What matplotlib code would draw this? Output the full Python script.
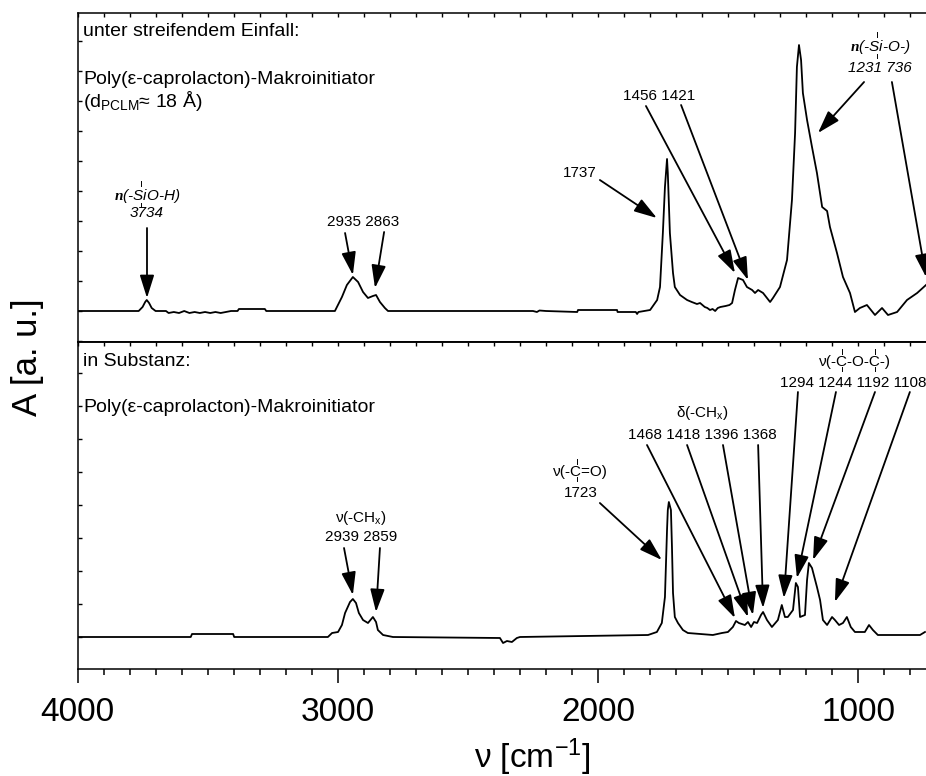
import numpy as np
import matplotlib
matplotlib.use('Agg')
import matplotlib.pyplot as plt
from matplotlib.lines import Line2D
from matplotlib.ticker import MultipleLocator
from matplotlib.transforms import IdentityTransform

plt.rcParams['font.family'] = ['Liberation Sans', 'DejaVu Sans']
plt.rcParams['mathtext.fontset'] = 'custom'
plt.rcParams['mathtext.rm'] = 'Liberation Sans'
plt.rcParams['mathtext.it'] = 'Liberation Sans:italic'
plt.rcParams['mathtext.bf'] = 'Liberation Sans:bold'
plt.rcParams['mathtext.bfit'] = 'Liberation Serif:italic:bold'

# ---------------- data ----------------
# grazing incidence spectrum (top)
wn_top = [4000, 3900, 3800, 3765, 3750, 3740, 3734, 3725, 3715, 3700, 3660, 3650, 3630, 3610,
          3590, 3570, 3550, 3530, 3510, 3490, 3470, 3450, 3430, 3410, 3385, 3380, 3280, 3275,
          3011, 2984, 2965, 2942, 2922, 2903, 2884, 2865, 2853, 2838, 2819, 2807, 2250, 2235,
          2225, 2200, 2080, 2077, 1927, 1925, 1855, 1850, 1845, 1800, 1773, 1762, 1751, 1743,
          1735, 1732, 1724, 1712, 1705, 1685, 1658, 1640, 1620, 1608, 1590, 1580, 1570, 1560,
          1550, 1540, 1530, 1510, 1495, 1485, 1474, 1462, 1443, 1428, 1408, 1397, 1385, 1366,
          1339, 1328, 1301, 1274, 1255, 1243, 1236, 1228, 1220, 1213, 1197, 1178, 1159, 1139,
          1120, 1109, 1082, 1059, 1032, 1013, 994, 967, 936, 909, 886, 851, 813, 774, 740]
a_top = [0, 0, 0, 0, 0.04, 0.09, 0.11, 0.08, 0.03, 0, 0, -0.02, -0.01, -0.02,
         0.0, -0.02, -0.01, -0.02, -0.01, -0.02, -0.01, -0.02, -0.01, 0, 0, 0.02, 0.02, 0,
         0, 0.14, 0.26, 0.34, 0.29, 0.19, 0.13, 0.15, 0.16, 0.09, 0.03, 0, 0, -0.01,
         0.005, 0, -0.01, 0.01, 0.01, -0.01, -0.01, -0.03, -0.01, 0.01, 0.11, 0.24, 0.78, 1.24,
         1.52, 1.38, 0.78, 0.38, 0.24, 0.16, 0.11, 0.09, 0.07, 0.08, 0.04, 0.03, 0.01, 0.02,
         0.0, 0.03, 0.04, 0.05, 0.06, 0.08, 0.21, 0.33, 0.31, 0.24, 0.21, 0.18, 0.21, 0.18,
         0.09, 0.13, 0.24, 0.51, 1.11, 1.78, 2.44, 2.66, 2.51, 2.18, 1.91, 1.64, 1.38, 1.04,
         1.00, 0.84, 0.58, 0.34, 0.18, -0.01, 0.03, 0.06, -0.04, 0.03, -0.04, -0.01, 0.11, 0.18, 0.26]

# bulk spectrum (bottom)
wn_bot = [4000, 3565, 3560, 3402, 3398, 3038, 3022, 2999, 2984, 2972, 2953, 2942, 2930, 2919,
          2903, 2884, 2865, 2853, 2846, 2826, 2788, 2377, 2365, 2350, 2331, 2312, 2300, 1808,
          1774, 1755, 1743, 1735, 1732, 1728, 1720, 1716, 1712, 1705, 1693, 1674, 1655, 1559,
          1524, 1501, 1482, 1470, 1459, 1436, 1424, 1412, 1401, 1389, 1374, 1366, 1351, 1332,
          1309, 1294, 1282, 1271, 1251, 1240, 1232, 1224, 1205, 1197, 1190, 1178, 1159, 1147,
          1136, 1120, 1101, 1090, 1074, 1059, 1044, 1029, 1013, 975, 959, 944, 925, 763, 744]
a_bot = [0, 0, 0.03, 0.03, 0, 0, 0.04, 0.05, 0.12, 0.24, 0.35, 0.38, 0.34, 0.24,
         0.17, 0.14, 0.20, 0.15, 0.07, 0.02, 0, -0.01, -0.06, -0.04, -0.05, -0.01, 0, 0.02,
         0.05, 0.14, 0.40, 1.07, 1.27, 1.35, 1.27, 0.90, 0.44, 0.20, 0.14, 0.07, 0.04, 0.02,
         0.04, 0.05, 0.10, 0.16, 0.14, 0.12, 0.15, 0.10, 0.15, 0.14, 0.22, 0.25, 0.17, 0.10,
         0.17, 0.32, 0.20, 0.20, 0.27, 0.54, 0.50, 0.20, 0.22, 0.57, 0.74, 0.69, 0.50, 0.37,
         0.17, 0.12, 0.20, 0.17, 0.12, 0.14, 0.20, 0.10, 0.05, 0.05, 0.12, 0.07, 0.02, 0.02, 0.05]

# panel titles
top_title = ["unter streifendem Einfall:", "Poly(\u03b5-caprolacton)-Makroinitiator",
             "(d$_{\\mathrm{PCLM}}$\u2248 18 \u00c5)"]
bot_title = ["in Substanz:", "Poly(\u03b5-caprolacton)-Makroinitiator"]

# annotation labels: (group label, numbers, x, y_group, y_numbers, italic)
top_groups = [("$\\mathbfit{n}$(-SiO-H)", "3734", 3733, 1.15, 0.98, True),
              (None, "2935 2863", 2903, None, 0.89, False),
              (None, "1456 1421", 1766, None, 2.15, False),
              ("$\\mathbfit{n}$(-Si-O-)", "1231 736", 917, 2.64, 2.43, True)]
# arrows: (tail wn, tail A, tip wn, tip A)
top_arrows = [(3733, 0.83, 3733, 0.13),
              (2972, 0.78, 2942, 0.36), (2822, 0.79, 2857, 0.23),
              (1993, 1.31, 1774, 0.93),
              (1816, 2.05, 1474, 0.38), (1681, 2.06, 1424, 0.31),
              (978, 2.29, 1155, 1.78), (871, 2.29, 740, 0.34)]

bot_groups = [("\u03bd(-CH$_\\mathrm{x}$)", "2939 2859", 2910, 1.19, 1.00),
              ("\u03bd(-C=O)", "1723", 2066, 1.65, 1.44),
              ("\u03b4(-CH$_\\mathrm{x}$)", "1468 1418 1396 1368", 1601, 2.24, 2.02),
              ("\u03bd(-C-O-C-)", "1294 1244 1192 1108", 1013, 2.75, 2.54)]
bot_arrows = [(2976, 0.89, 2942, 0.42), (2838, 0.89, 2853, 0.25),
              (1993, 1.34, 1755, 0.77),
              (1812, 1.92, 1474, 0.19), (1658, 1.92, 1424, 0.20),
              (1520, 1.92, 1405, 0.22), (1385, 1.92, 1366, 0.29),
              (1232, 2.45, 1286, 0.39), (1086, 2.45, 1236, 0.59),
              (936, 2.45, 1174, 0.77), (802, 2.45, 1090, 0.35)]

# ---------------- figure ----------------
W, H = 926, 776
fig = plt.figure(figsize=(W / 100, H / 100), dpi=100)
left = 77.5 / W
ax1 = fig.add_axes([left, 1 - 342 / H, 1 - left, 329 / H])
ax2 = fig.add_axes([left, 1 - 669 / H, 1 - left, 327 / H])

for ax, wn, a in ((ax1, wn_top, a_top), (ax2, wn_bot, a_bot)):
    ax.plot(wn, a, color='k', lw=1.3)
    ax.set_xlim(4000, 740)
    ax.spines['right'].set_visible(False)
    for s in ax.spines.values():
        s.set_linewidth(1.1)
    ax.tick_params(axis='y', direction='in', length=3, width=1, left=True, right=False,
                   labelleft=False)
ax1.set_ylim(-0.31, 2.98)
ax2.set_ylim(-0.32, 2.95)
ax1.yaxis.set_major_locator(MultipleLocator(0.30))
ax2.yaxis.set_major_locator(MultipleLocator(0.33))

ax1.xaxis.set_major_locator(MultipleLocator(100))
ax1.tick_params(axis='x', bottom=False, top=True, direction='in', length=3, width=1,
                labelbottom=False, labeltop=False)

ax2.xaxis.set_major_locator(MultipleLocator(1000))
ax2.xaxis.set_minor_locator(MultipleLocator(100))
ax2.tick_params(axis='x', which='major', direction='out', length=10, width=1.1,
                labelsize=24, pad=10, top=False)
ax2.tick_params(axis='x', which='minor', direction='out', length=4.5, width=1.1, top=False)
sec = ax2.secondary_xaxis('top')
sec.xaxis.set_major_locator(MultipleLocator(100))
sec.tick_params(axis='x', direction='in', length=3, width=1, labeltop=False, labelbottom=False)
sec.spines['top'].set_linewidth(1.1)

fig.text(532 / W, 1 - 757 / H, "\u03bd [cm$^{-1}$]", fontsize=24, ha='center', va='center')
fig.text(28 / W, 1 - 357 / H, "A [a. u.]", fontsize=25, rotation=90, ha='center', va='center')

for s, py in zip(top_title, [31, 79, 101]):
    fig.text(83 / W, 1 - py / H, s, fontsize=14, ha='left', va='center')
for s, py in zip(bot_title, [361, 408]):
    fig.text(83 / W, 1 - py / H, s, fontsize=14, ha='left', va='center')

ann_fs = 11
marks = []  # (text artist, prefix, chars)
for g, nums, x, yg, yn, it in top_groups:
    st = 'italic' if it else 'normal'
    if g is not None:
        t = ax1.text(x, yg, g, fontsize=ann_fs, ha='center', va='center', style=st)
        marks.append((t, g.split('Si')[0], 'Si'))
    ax1.text(x, yn, nums, fontsize=ann_fs, ha='center', va='center', style=st)
ax1.text(2004, 1.38, "1737", fontsize=ann_fs, ha='right', va='center')

for g, nums, x, yg, yn in bot_groups:
    t = ax2.text(x, yg, g, fontsize=ann_fs, ha='center', va='center')
    if 'C-O-C' in g:
        marks.append((t, "\u03bd(-", 'C'))
        marks.append((t, "\u03bd(-C-O-", 'C'))
        # numbers row reaches the right edge of the plot: anchor it there
        ax2.text(1.0, yn, nums, fontsize=ann_fs, ha='right', va='center',
                 transform=ax2.get_yaxis_transform())
        continue
    elif 'C=O' in g:
        marks.append((t, "\u03bd(-", 'C'))
    ax2.text(x, yn, nums, fontsize=ann_fs, ha='center', va='center')

aprops = dict(arrowstyle='-|>,head_length=0.7,head_width=0.22', mutation_scale=20,
              lw=1.3, color='k', fc='k', shrinkA=0, shrinkB=0)
for ax, arrows in ((ax1, top_arrows), (ax2, bot_arrows)):
    for x0, y0, x1, y1 in arrows:
        ax.annotate('', xy=(x1, y1), xytext=(x0, y0), arrowprops=aprops)

# bond marks above / below atoms
fig.canvas.draw()
r = fig.canvas.get_renderer()
for t, prefix, ch in marks:
    bb = t.get_window_extent(r)
    fp = t.get_fontproperties()
    tmp1 = fig.text(0, 0, prefix, fontproperties=fp)
    tmp2 = fig.text(0, 0, prefix + ch, fontproperties=fp)
    w1 = tmp1.get_window_extent(r).width
    w2 = tmp2.get_window_extent(r).width
    tmp1.remove(); tmp2.remove()
    xc = bb.x0 + (w1 + w2) / 2
    for ya, yb in ((bb.y1 + 1, bb.y1 + 6), (bb.y0 - 2, bb.y0 + 2)):
        fig.add_artist(Line2D([xc, xc], [ya, yb], color='k', lw=0.7,
                              transform=IdentityTransform()))

fig.savefig('out.png', dpi=100)
